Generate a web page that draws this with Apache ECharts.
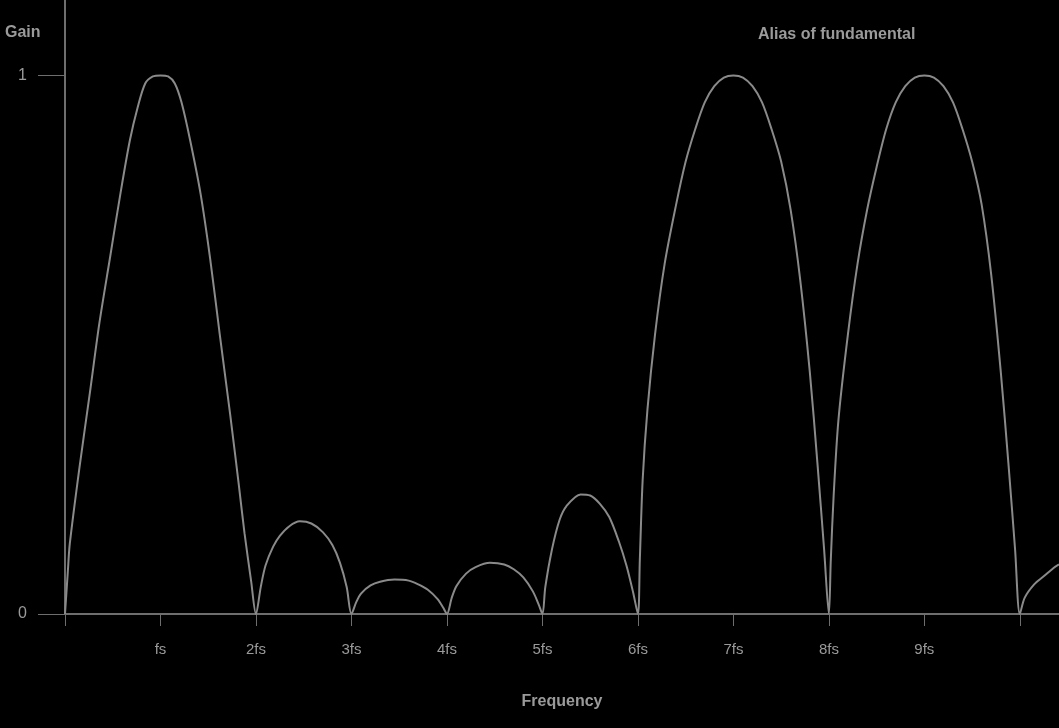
<!DOCTYPE html>
<html>
<head>
<meta charset="utf-8">
<script src="https://cdn.jsdelivr.net/npm/echarts@6/dist/echarts.min.js"></script>
<style>
html,body{margin:0;padding:0;background:#000;}
#c{width:1059px;height:728px;}
</style>
</head>
<body>
<div id="c"></div>
<script>
// Frequency in multiples of the tick unit, gain
const freq = [0,0.03,0.05,0.15,0.26,0.36,0.47,0.58,0.68,0.76,0.84,0.92,1.0,1.08,1.15,1.22,1.31,1.42,1.52,1.62,1.73,1.82,1.88,1.95,2.0,
  2.05,2.1,2.18,2.25,2.35,2.46,2.58,2.7,2.8,2.88,2.95,3.0,
  3.05,3.1,3.2,3.3,3.45,3.6,3.7,3.8,3.9,3.96,4.0,
  4.05,4.1,4.2,4.3,4.45,4.6,4.7,4.8,4.9,4.96,5.0,
  5.03,5.1,5.18,5.25,5.4,5.5,5.6,5.7,5.8,5.88,5.95,6.0,
  6.02,6.05,6.1,6.18,6.28,6.4,6.5,6.6,6.7,6.8,6.9,7.0,7.1,7.2,7.3,7.4,7.5,7.6,7.7,7.8,7.88,7.95,8.0,
  8.02,8.05,8.1,8.2,8.3,8.4,8.5,8.6,8.7,8.8,8.9,9.0,9.1,9.2,9.3,9.4,9.5,9.6,9.7,9.8,9.88,9.95,10.0,
  10.05,10.15,10.25,10.35,10.41];
const gain = [0,0.08,0.13,0.27,0.41,0.54,0.66,0.78,0.88,0.94,0.985,0.998,1.0,0.998,0.985,0.95,0.88,0.78,0.66,0.52,0.37,0.24,0.15,0.06,0,
  0.05,0.09,0.125,0.145,0.163,0.172,0.168,0.152,0.128,0.095,0.05,0,
  0.022,0.038,0.053,0.060,0.064,0.062,0.055,0.045,0.028,0.012,0,
  0.03,0.052,0.075,0.087,0.095,0.092,0.083,0.068,0.042,0.018,0,
  0.05,0.12,0.175,0.2,0.222,0.22,0.205,0.18,0.135,0.09,0.04,0,
  0.1,0.25,0.38,0.52,0.65,0.76,0.84,0.9,0.95,0.98,0.996,1.0,0.996,0.98,0.95,0.9,0.84,0.75,0.62,0.45,0.28,0.12,0,
  0.1,0.22,0.36,0.52,0.65,0.75,0.83,0.9,0.95,0.98,0.996,1.0,0.996,0.98,0.95,0.9,0.84,0.76,0.63,0.45,0.28,0.12,0,
  0.03,0.055,0.07,0.085,0.092];
const xTickLabels = ['', 'fs','2fs','3fs','4fs','5fs','6fs','7fs','8fs','9fs',''];
const yTickLabels = {0:'0', 1:'1'};
const seriesName = 'Alias of fundamental';

const chart = echarts.init(document.getElementById('c'));
const txt = '#9a9a9a', ln = '#6e6e6e';
const ff = 'Liberation Sans';
chart.setOption({
  backgroundColor: '#000',
  animation: false,
  grid: {left: 65, right: 0, top: 0, bottom: 114},
  legend: {
    data: [{name: seriesName, icon: 'none'}],
    left: 748, top: 22, itemWidth: 0, itemGap: 0,
    textStyle: {color: txt, fontSize: 16, fontWeight: 'bold', fontFamily: ff}
  },
  xAxis: {
    type: 'value', min: 0, max: 10.41, interval: 1,
    name: 'Frequency', nameLocation: 'middle', nameGap: 80,
    nameTextStyle: {color: txt, fontSize: 16, fontWeight: 'bold', fontFamily: ff},
    axisLine: {lineStyle: {color: ln, width: 2}},
    axisTick: {show: true, length: 12, lineStyle: {color: ln}},
    axisLabel: {color: txt, fontSize: 15, fontFamily: ff, margin: 28,
      showMaxLabel: false,
      formatter: v => xTickLabels[Math.round(v)] || ''},
    splitLine: {show: false}
  },
  yAxis: {
    type: 'value', min: 0, max: 1.14, interval: 1,
    name: 'Gain', nameLocation: 'end', nameGap: 0,
    nameTextStyle: {color: txt, fontSize: 16, fontWeight: 'bold', fontFamily: ff,
      align: 'left', verticalAlign: 'top', padding: [25, 0, 0, -60]},
    axisLine: {show: true, lineStyle: {color: ln, width: 2}},
    axisTick: {show: true, length: 27, lineStyle: {color: ln}},
    axisLabel: {color: txt, fontSize: 16, fontFamily: ff, margin: 38,
      showMaxLabel: false,
      formatter: v => yTickLabels[v] !== undefined ? yTickLabels[v] : ''},
    splitLine: {show: false}
  },
  series: [{
    name: seriesName,
    type: 'line',
    data: freq.map((f, i) => [f, gain[i]]),
    showSymbol: false,
    smooth: 0.3,
    lineStyle: {color: '#8a8a8a', width: 2},
    itemStyle: {color: '#8a8a8a'}
  }]
});
</script>
</body>
</html>
